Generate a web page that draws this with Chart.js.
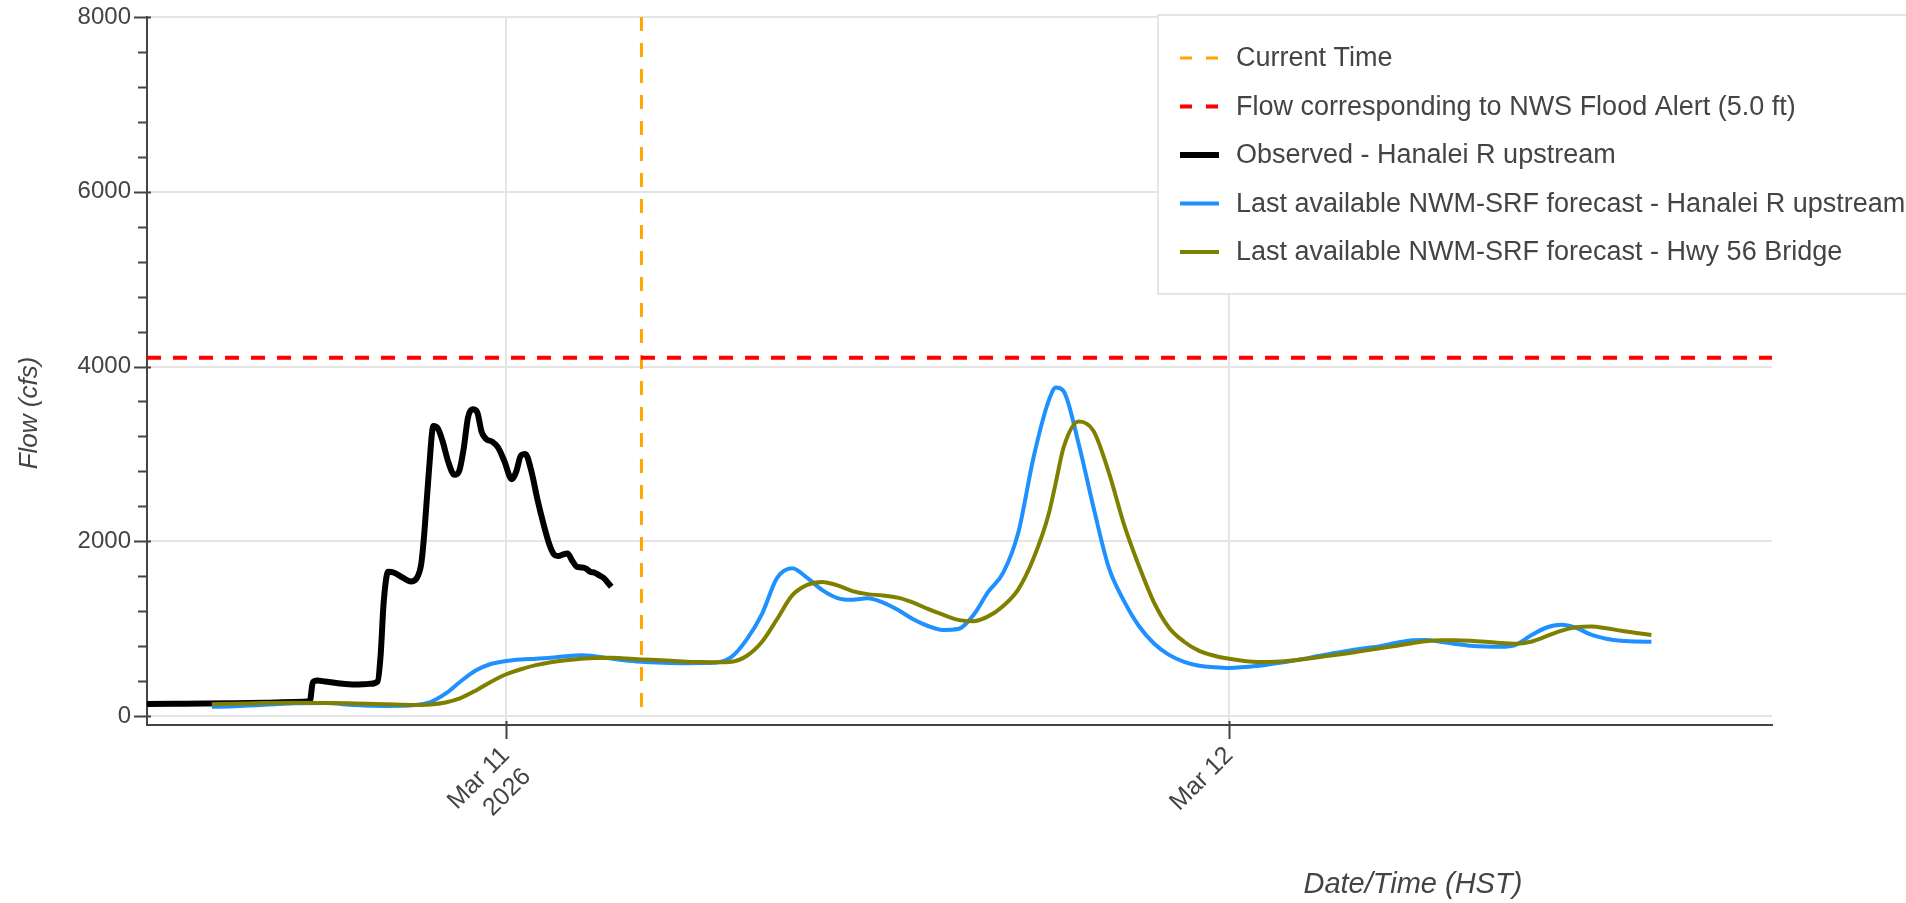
<!DOCTYPE html>
<html>
<head>
<meta charset="utf-8">
<title>Hanalei flow</title>
<script src="https://cdn.jsdelivr.net/npm/chart.js@4.4.1/dist/chart.umd.min.js"></script>
<style>
  html, body { margin: 0; padding: 0; background: #fff; }
  #wrap { position: relative; width: 1906px; height: 903px; }
</style>
</head>
<body>
<div id="wrap"><canvas id="flowChart" width="1906" height="903"></canvas></div>
<script>
// x values are hours since Mar 10 2026 00:00 HST
const xMin = 12.1;
const xMax = 66;
const xTickValues = [24, 48];
const xTickLabels = [['Mar 11', '2026'], 'Mar 12'];

const yMin = -103;
const yMax = 8000;
const yTickValues = [0, 2000, 4000, 6000, 8000];
const yMinorTickValues = [400, 800, 1200, 1600, 2400, 2800, 3200, 3600, 4400, 4800, 5200, 5600, 6400, 6800, 7200, 7600];

const currentTime = 28.5;
const floodFlow = 4100;

// Observed - Hanalei R upstream
const obsTimes = [
    12.0, 13.0, 14.0, 15.0, 16.0, 17.0, 17.5, 17.6, 17.75, 18.0, 18.5, 19.0, 19.25, 19.5, 19.75,
    19.85, 19.95, 20.1, 20.3, 20.6, 20.85, 21.05, 21.2, 21.3, 21.45, 21.6, 21.75, 21.9, 22.1, 22.3,
    22.45, 22.6, 22.75, 22.9, 23.05, 23.2, 23.35, 23.55, 23.75, 23.95, 24.2, 24.35, 24.5, 24.65, 24.85,
    25.05, 25.25, 25.45, 25.6, 25.75, 25.9, 26.05, 26.2, 26.35, 26.5, 26.65, 26.8, 26.95, 27.1, 27.25,
    27.4, 27.5
];
const obsFlow = [
    138, 140, 142, 146, 152, 160, 168, 385, 405, 395, 372, 360, 362, 368, 395,
    700, 1300, 1650, 1640, 1580, 1540, 1580, 1750, 2100, 2800, 3320, 3290, 3150, 2900, 2760,
    2800, 3050, 3420, 3510, 3480, 3250, 3170, 3140, 3070, 2920, 2710, 2800, 2980, 3000, 2800,
    2480, 2200, 1960, 1850, 1830, 1850, 1860, 1780, 1710, 1700, 1690, 1650, 1640, 1610, 1580,
    1520, 1480
];

// NWM-SRF forecast times (shared by both forecast points)
const fcTimes = [
    14.25, 15, 16, 17, 18, 19, 20, 21, 21.5, 22, 22.5, 23, 23.5, 24, 24.5, 25, 25.5, 26, 26.5, 27,
    27.5, 28, 28.5, 29, 29.5, 30, 30.5, 31, 31.5, 32, 32.5, 33, 33.5, 34, 34.5, 35, 35.5, 36, 36.5, 37,
    37.5, 38, 38.5, 39, 39.5, 40, 40.5, 41, 41.5, 42, 42.25, 42.5, 43, 43.5, 44, 44.5, 45, 45.5, 46, 46.5,
    47, 47.5, 48, 48.5, 49, 49.5, 50, 50.5, 51, 51.5, 52, 52.5, 53, 53.5, 54, 54.5, 55, 55.5, 56, 56.5,
    57, 57.5, 58, 58.5, 59, 59.5, 60, 60.5, 61, 61.5, 62
];
const fcUpstream = [
    105, 112, 128, 145, 148, 125, 115, 125, 160, 255, 395, 520, 595, 630, 648, 656, 668, 685, 695, 682,
    658, 636, 622, 612, 607, 605, 606, 612, 680, 880, 1170, 1580, 1690, 1580, 1440, 1350, 1330, 1348, 1300, 1215,
    1110, 1030, 985, 995, 1150, 1420, 1640, 2100, 2950, 3600, 3760, 3720, 3120, 2380, 1700, 1320, 1030, 830, 700, 620,
    575, 558, 550, 560, 575, 600, 625, 655, 690, 720, 750, 775, 800, 835, 865, 870, 850, 825, 805, 795,
    793, 815, 920, 1010, 1044, 1010, 930, 885, 860, 852, 850
];
const fcBridge = [
    135, 140, 148, 152, 150, 143, 135, 127, 132, 155, 205, 290, 390, 475, 535, 582, 615, 638, 655, 665,
    666, 658, 648, 640, 632, 622, 618, 616, 622, 690, 850, 1110, 1380, 1500, 1535, 1495, 1430, 1395, 1380, 1355,
    1300, 1225, 1160, 1100, 1085, 1140, 1260, 1450, 1800, 2300, 2680, 3070, 3370, 3260, 2790, 2200, 1720, 1300, 1010, 850,
    745, 690, 655, 630, 618, 620, 632, 652, 675, 698, 722, 748, 775, 800, 830, 855, 868, 868, 862, 850,
    835, 828, 850, 910, 975, 1015, 1025, 1005, 975, 950, 928
];

const textColor = '#444';
const fontFamily = '"Liberation Sans", Arial, Helvetica, sans-serif';

const toPoints = (xs, ys) => xs.map((x, i) => ({ x, y: ys[i] }));

const datasets = [
    {
        label: 'Current Time',
        data: [{ x: currentTime, y: yMax }, { x: currentTime, y: 0 }],
        borderColor: '#FFA500',
        borderWidth: 3,
        borderDash: [14, 12],
        order: 1
    },
    {
        label: 'Flow corresponding to NWS Flood Alert (5.0 ft)',
        data: [{ x: xMin, y: floodFlow }, { x: xMax, y: floodFlow }],
        borderColor: '#FF0000',
        borderWidth: 4,
        borderDash: [14, 12],
        order: 0
    },
    {
        label: 'Observed - Hanalei R upstream',
        data: toPoints(obsTimes, obsFlow),
        borderColor: '#000000',
        borderWidth: 6,
        cubicInterpolationMode: 'monotone',
        order: 4
    },
    {
        label: 'Last available NWM-SRF forecast - Hanalei R upstream',
        data: toPoints(fcTimes, fcUpstream),
        borderColor: '#1E90FF',
        borderWidth: 4,
        cubicInterpolationMode: 'monotone',
        order: 3
    },
    {
        label: 'Last available NWM-SRF forecast - Hwy 56 Bridge',
        data: toPoints(fcTimes, fcBridge),
        borderColor: '#808000',
        borderWidth: 4,
        cubicInterpolationMode: 'monotone',
        order: 2
    }
];

// tick marks, axis titles and the boxed legend
const decorPlugin = {
    id: 'decor',
    afterDatasetsDraw(chart) {
        const { ctx, chartArea, scales } = chart;
        const ax = chartArea.left;
        const ay = chartArea.bottom;
        ctx.save();
        ctx.strokeStyle = textColor;
        ctx.lineWidth = 2;
        ctx.beginPath();
        yTickValues.forEach(v => {
            const p = Math.round(scales.y.getPixelForValue(v)) + 0.5;
            ctx.moveTo(ax - 13, p);
            ctx.lineTo(ax + 4, p);
        });
        yMinorTickValues.forEach(v => {
            const p = Math.round(scales.y.getPixelForValue(v)) + 0.5;
            ctx.moveTo(ax - 9, p);
            ctx.lineTo(ax, p);
        });
        xTickValues.forEach(v => {
            const p = Math.round(scales.x.getPixelForValue(v)) + 0.5;
            ctx.moveTo(p, ay - 4);
            ctx.lineTo(p, ay + 14);
        });
        ctx.stroke();

        // axis titles
        ctx.fillStyle = textColor;
        ctx.textAlign = 'center';
        ctx.textBaseline = 'middle';
        ctx.font = 'italic 29px ' + fontFamily;
        ctx.fillText('Date/Time (HST)', chartArea.left + (chartArea.right - chartArea.left) * 0.779, 885);
        ctx.font = 'italic 26px ' + fontFamily;
        ctx.translate(30, 413);
        ctx.rotate(-Math.PI / 2);
        ctx.fillText('Flow (cfs)', 0, 0);
        ctx.restore();
    },
    afterDraw(chart) {
        const ctx = chart.ctx;
        ctx.save();
        ctx.fillStyle = 'rgba(255,255,255,0.96)';
        ctx.fillRect(1158, 15, 760, 279);
        ctx.strokeStyle = '#e5e5e5';
        ctx.lineWidth = 2;
        ctx.strokeRect(1158, 15, 760, 279);
        ctx.font = '27px ' + fontFamily;
        ctx.textBaseline = 'middle';
        ctx.textAlign = 'left';
        chart.data.datasets.forEach((ds, i) => {
            const y = 58 + i * 48.5;
            ctx.beginPath();
            ctx.setLineDash(ds.borderDash ? [12, 14] : []);
            ctx.strokeStyle = ds.borderColor;
            ctx.lineWidth = ds.borderWidth;
            ctx.moveTo(1180, y);
            ctx.lineTo(1219, y);
            ctx.stroke();
            ctx.setLineDash([]);
            ctx.fillStyle = textColor;
            ctx.fillText(ds.label, 1236, y + 1);
        });
        ctx.restore();
    }
};

new Chart(document.getElementById('flowChart'), {
    type: 'line',
    data: { datasets },
    plugins: [decorPlugin],
    options: {
        responsive: false,
        animation: false,
        events: [],
        layout: { padding: { top: 17, right: 134, left: 0, bottom: 0 } },
        elements: { point: { radius: 0 }, line: { fill: false } },
        plugins: {
            legend: { display: false },
            tooltip: { enabled: false }
        },
        scales: {
            x: {
                type: 'linear',
                min: xMin,
                max: xMax,
                afterFit: scale => {
                    scale.height = 178;
                    scale.paddingLeft = 0;
                    scale.paddingRight = 0;
                },
                afterBuildTicks: scale => { scale.ticks = xTickValues.map(value => ({ value })); },
                border: { color: textColor, width: 2 },
                grid: { color: '#e5e5e5', lineWidth: 2, drawTicks: false },
                ticks: {
                    autoSkip: false,
                    minRotation: 45,
                    maxRotation: 45,
                    padding: 16,
                    color: textColor,
                    font: { family: fontFamily, size: 25 },
                    callback: value => {
                        const i = xTickValues.indexOf(value);
                        return i >= 0 ? xTickLabels[i] : '';
                    }
                }
            },
            y: {
                type: 'linear',
                min: yMin,
                max: yMax,
                afterFit: scale => {
                    scale.width = 147;
                    scale.paddingTop = 0;
                    scale.paddingBottom = 0;
                },
                afterBuildTicks: scale => { scale.ticks = yTickValues.map(value => ({ value })); },
                border: { color: textColor, width: 2 },
                grid: { color: '#e5e5e5', lineWidth: 2, drawTicks: false },
                ticks: {
                    padding: 16,
                    color: textColor,
                    font: { family: fontFamily, size: 24 },
                    callback: value => String(value)
                }
            }
        }
    }
});
</script>
</body>
</html>
